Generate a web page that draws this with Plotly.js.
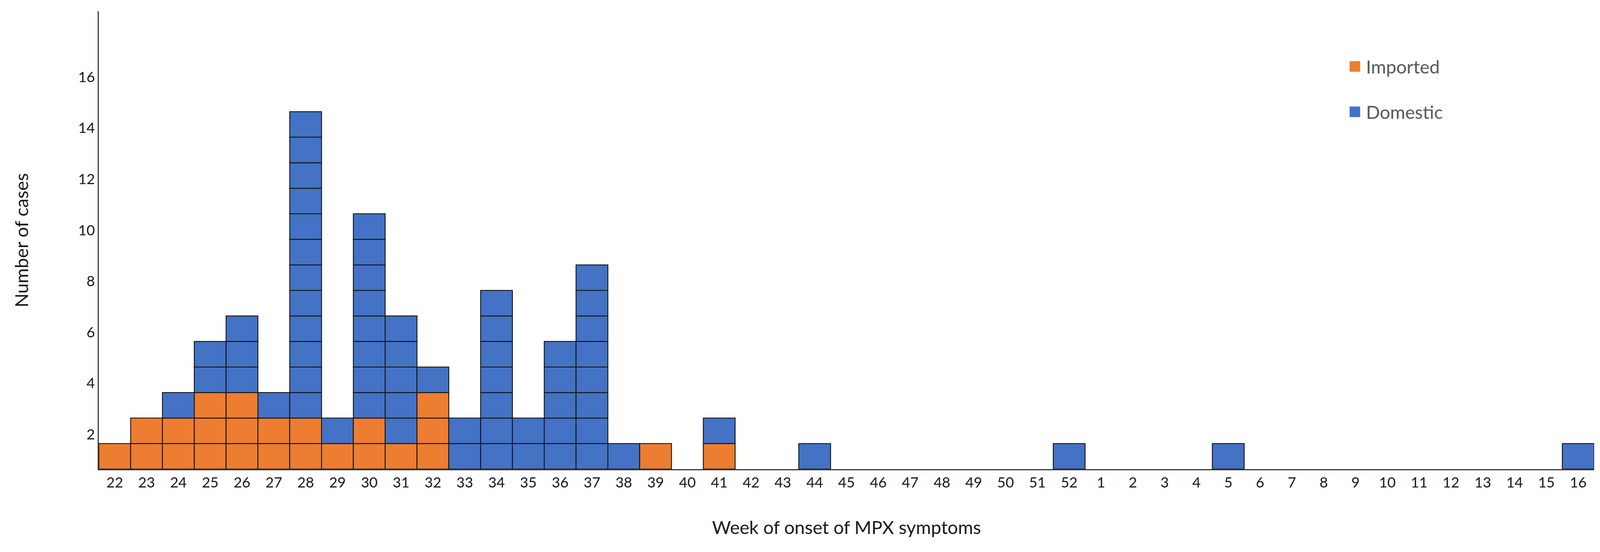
<!DOCTYPE html>
<html>
<head>
<meta charset="utf-8">
<script src="https://cdn.plot.ly/plotly-3.0.1.min.js"></script>
<style>html,body{margin:0;padding:0;background:#fff;overflow:hidden;}#chart{width:100vw;height:100vh;}</style>
</head>
<body>
<div id="chart"></div>
<script>
// ---- data ----
const weeks = ['22','23','24','25','26','27','28','29','30','31','32','33','34','35','36','37','38','39','40','41',
  '42','43','44','45','46','47','48','49','50','51','52',
  '1','2','3','4','5','6','7','8','9','10','11','12','13','14','15','16'];
const imported = [1,2,2,3,3,2,2,1,2,1,3,0,0,0,0,0,0,1,0,1,
  0,0,0,0,0,0,0,0,0,0,0,
  0,0,0,0,0,0,0,0,0,0,0,0,0,0,0,0];
const domestic = [0,0,1,2,3,1,12,1,8,5,1,2,7,2,5,8,1,0,0,1,
  0,0,1,0,0,0,0,0,0,0,1,
  0,0,0,0,1,0,0,0,0,0,0,0,0,0,0,1];
const seriesNames = ['Imported','Domestic'];
const yTicks = [2,4,6,8,10,12,14,16];

// ---- style ----
const COLORS = {Imported:'#ED7D31', Domestic:'#4472C4'};
const BASELINE = 0.64;   // y value at which the stacks start (axis origin of the figure)
const FONT = 'Lato, "Open Sans", sans-serif';

// fit to the real viewport (design size 4547 x 1412)
const W = window.innerWidth || 4547;
const H = window.innerHeight || 1412;
const sx = W / 4547, sy = H / 1412, s = Math.min(sx, sy);

const totals = weeks.map((w,i)=>imported[i]+domestic[i]);
const maxTotal = Math.max(...totals);

// one trace per stacking level so every case is its own outlined cell
const traces = [];
for (let k = 1; k <= maxTotal; k++) {
  traces.push({
    type:'bar',
    x: weeks,
    y: weeks.map((w,i)=> totals[i] >= k ? 1 : null),
    base: weeks.map(()=> BASELINE + k - 1),
    marker:{
      color: weeks.map((w,i)=> k <= imported[i] ? COLORS.Imported : COLORS.Domestic),
      line:{color:'#141414', width:2.5*s}
    },
    showlegend:false,
    hoverinfo:'skip'
  });
}

// manual legend (large squares like the original)
const legendY = [0.8796, 0.7805];
const half = 15*s;
const shapes = seriesNames.map((n,j)=>({
  type:'rect', xref:'paper', yref:'paper', xsizemode:'pixel', ysizemode:'pixel',
  xanchor:0.840, yanchor:legendY[j], x0:-half, x1:half, y0:-half, y1:half,
  fillcolor:COLORS[n], line:{width:0}
}));
const annotations = seriesNames.map((n,j)=>({
  xref:'paper', yref:'paper', x:0.847, y:legendY[j], xanchor:'left', yanchor:'middle',
  text:n, showarrow:false, font:{family:FONT, size:52*s, color:'#595959'}
}));

const layout = {
  width:W, height:H, autosize:false,
  margin:{l:281*sx, r:17*sx, t:29*sy, b:212*sy, pad:0},
  paper_bgcolor:'#fff', plot_bgcolor:'#fff',
  barmode:'overlay', bargap:0,
  font:{family:FONT, color:'#1a1a1a'},
  xaxis:{
    type:'category', categoryorder:'array', categoryarray:weeks,
    showline:true, linecolor:'#3a3a3a', linewidth:3*s,
    ticks:'', showgrid:false, zeroline:false, automargin:false,
    tickfont:{family:FONT, size:41*s, color:'#1a1a1a'},
    ticklabelstandoff:4*s,
    title:{text:'Week of onset of MPX symptoms', font:{family:FONT, size:52*s, color:'#1a1a1a'}, standoff:88*s}
  },
  yaxis:{
    range:[BASELINE, 18.57], tickmode:'array', tickvals:yTicks, ticktext:yTicks.map(String),
    showline:true, linecolor:'#3a3a3a', linewidth:3*s,
    ticks:'', showgrid:false, zeroline:false, automargin:false,
    tickfont:{family:FONT, size:41*s, color:'#1a1a1a'},
    ticklabelstandoff:26*s,
    title:{text:'Number of cases', font:{family:FONT, size:52*s, color:'#1a1a1a'}, standoff:126*s}
  },
  shapes:shapes,
  annotations:annotations
};

Plotly.newPlot('chart', traces, layout, {displayModeBar:false, staticPlot:true});
</script>
</body>
</html>
